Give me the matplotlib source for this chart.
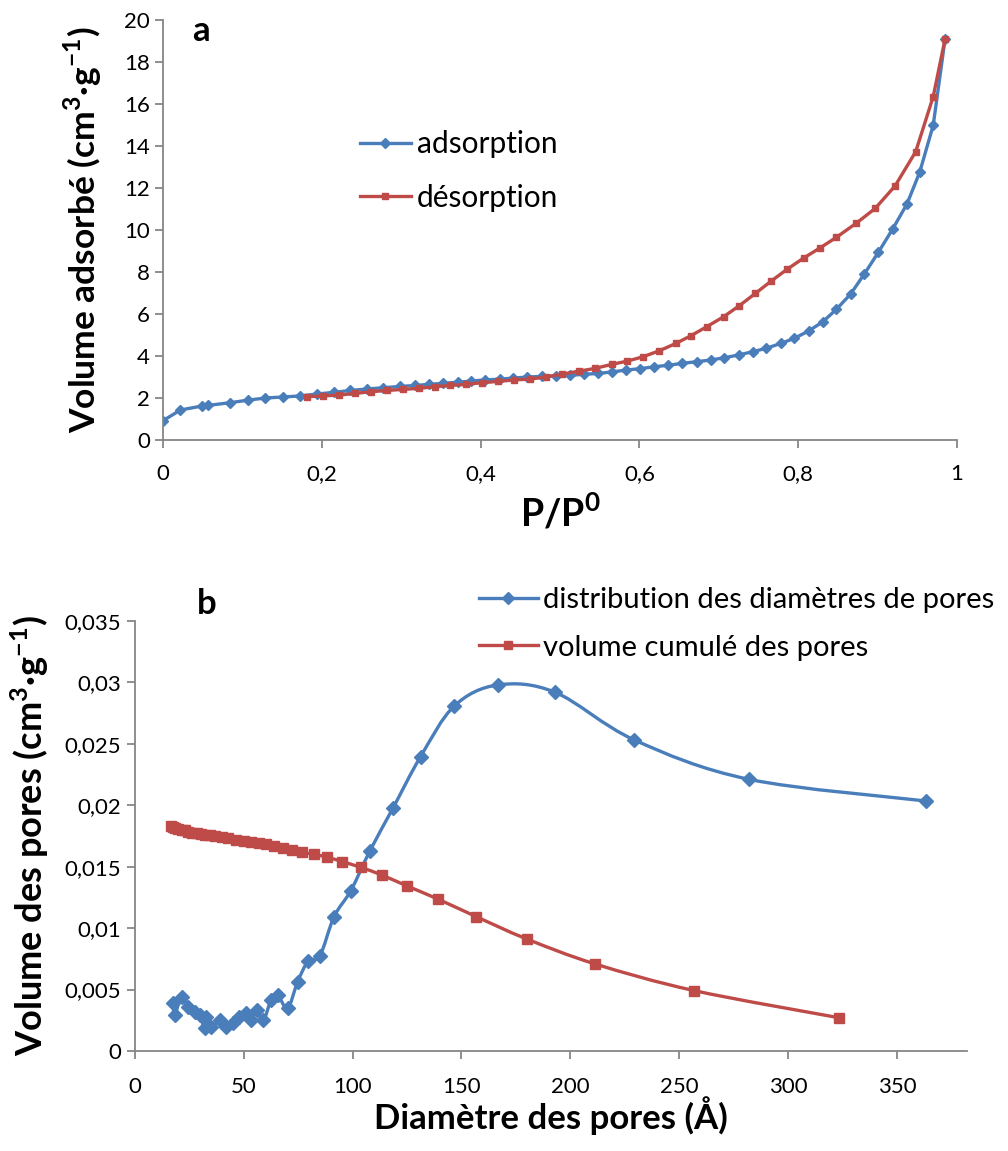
import numpy as np
import matplotlib
matplotlib.use("Agg")
import matplotlib.pyplot as plt
from matplotlib.path import Path
from matplotlib.patches import PathPatch
from matplotlib.ticker import FuncFormatter

plt.rcParams['font.family'] = ['Lato', 'DejaVu Sans']
plt.rcParams['mathtext.fontset'] = 'custom'
plt.rcParams['mathtext.rm'] = 'Lato'
plt.rcParams['mathtext.bf'] = 'Lato:bold'

# --- panel a : isotherm ---
p_ads = [0.0, 0.022, 0.049, 0.057, 0.085, 0.107, 0.129, 0.151, 0.173, 0.194,
         0.215, 0.236, 0.257, 0.277, 0.298, 0.318, 0.335, 0.353, 0.371, 0.388,
         0.406, 0.424, 0.441, 0.459, 0.477, 0.495, 0.512, 0.530, 0.548, 0.565,
         0.583, 0.601, 0.619, 0.636, 0.654, 0.672, 0.690, 0.707, 0.725, 0.743,
         0.760, 0.778, 0.795, 0.813, 0.831, 0.848, 0.866, 0.883, 0.901, 0.919,
         0.937, 0.953, 0.970, 0.985]
v_ads = [0.92, 1.43, 1.62, 1.65, 1.78, 1.90, 2.00, 2.05, 2.10, 2.19,
         2.27, 2.36, 2.43, 2.49, 2.55, 2.60, 2.65, 2.70, 2.75, 2.81,
         2.86, 2.90, 2.95, 3.00, 3.03, 3.05, 3.08, 3.13, 3.17, 3.24,
         3.33, 3.40, 3.49, 3.56, 3.65, 3.73, 3.81, 3.92, 4.05, 4.21,
         4.37, 4.60, 4.84, 5.19, 5.63, 6.22, 6.95, 7.89, 8.94, 10.05,
         11.24, 12.75, 14.98, 19.1]

p_des = [0.181, 0.201, 0.222, 0.242, 0.262, 0.282, 0.302, 0.322, 0.343, 0.362,
         0.382, 0.402, 0.422, 0.442, 0.462, 0.482, 0.503, 0.524, 0.544, 0.565,
         0.585, 0.605, 0.625, 0.646, 0.665, 0.685, 0.706, 0.726, 0.746, 0.766,
         0.786, 0.807, 0.828, 0.848, 0.873, 0.897, 0.922, 0.948, 0.970, 0.985]
v_des = [2.06, 2.10, 2.14, 2.22, 2.30, 2.36, 2.41, 2.46, 2.54, 2.60,
         2.65, 2.73, 2.79, 2.86, 2.90, 3.00, 3.14, 3.28, 3.41, 3.60,
         3.76, 3.97, 4.25, 4.60, 4.97, 5.40, 5.87, 6.40, 6.98, 7.57,
         8.13, 8.67, 9.16, 9.65, 10.32, 11.03, 12.10, 13.73, 16.35, 19.1]

# --- panel b : pore size distribution ---
d_dist = [17.6, 18.4, 21.5, 24.5, 27.6, 29.8, 32.1, 32.9, 35.2, 39.0,
          42.0, 45.1, 48.1, 51.2, 53.5, 56.0, 59.1, 62.6, 65.6, 70.2,
          74.8, 79.7, 85.0, 91.5, 99.2, 108.0, 118.5, 131.2, 146.7, 166.6,
          192.9, 229.4, 282.0, 363.0]
v_dist = [0.00388, 0.00293, 0.00442, 0.00361, 0.0032, 0.00293, 0.00185, 0.00279, 0.00198, 0.00252,
          0.00198, 0.00225, 0.00274, 0.00307, 0.00252, 0.00334, 0.00252, 0.00415, 0.00456, 0.00348,
          0.00564, 0.00733, 0.00773, 0.01093, 0.01305, 0.0163, 0.01975, 0.02395, 0.02808, 0.02979,
          0.0292, 0.02531, 0.02211, 0.02035]

d_cum = [16.5, 17.5, 18.5, 20.0, 21.5, 23.0, 24.5, 26.5, 28.5, 30.5,
         32.5, 34.5, 37.0, 40.0, 43.0, 46.5, 50.0, 53.5, 57.0, 60.5,
         64.0, 68.0, 72.2, 76.8, 82.1, 88.5, 95.3, 103.7, 113.3, 125.0,
         139.1, 156.8, 179.9, 211.4, 256.9, 323.1]
v_cum = [0.0183, 0.0182, 0.01815, 0.0181, 0.018, 0.01795, 0.01785, 0.01778, 0.01772, 0.01765,
         0.0176, 0.01754, 0.01746, 0.01738, 0.0173, 0.0172, 0.01711, 0.01702, 0.01694, 0.01685,
         0.01672, 0.01655, 0.01636, 0.01617, 0.01601, 0.01577, 0.01541, 0.01495, 0.01433, 0.01343,
         0.01237, 0.01093, 0.00912, 0.00708, 0.00491, 0.00271]

BLUE = '#4A7EBB'
RED = '#BE4B48'
AXC = '#868686'


def comma(v, pos):
    return '{:g}'.format(v).replace('.', ',')


def smooth_line(ax, x, y, color, lw):
    # Excel-like smoothed line: cubic bezier through the points
    x = np.asarray(x, float)
    y = np.asarray(y, float)
    verts = [(x[0], y[0])]
    codes = [Path.MOVETO]
    n = len(x)
    for i in range(n - 1):
        i0 = max(i - 1, 0)
        i3 = min(i + 2, n - 1)
        c1 = (x[i] + (x[i + 1] - x[i0]) / 6, y[i] + (y[i + 1] - y[i0]) / 6)
        c2 = (x[i + 1] - (x[i3] - x[i]) / 6, y[i + 1] - (y[i3] - y[i]) / 6)
        verts += [c1, c2, (x[i + 1], y[i + 1])]
        codes += [Path.CURVE4] * 3
    ax.add_patch(PathPatch(Path(verts, codes), fill=False, edgecolor=color,
                           lw=lw, capstyle='round', joinstyle='round'))


def style_axes(ax):
    for s in ['top', 'right']:
        ax.spines[s].set_visible(False)
    for s in ['left', 'bottom']:
        ax.spines[s].set_color(AXC)
        ax.spines[s].set_linewidth(1.3)
    ax.tick_params(direction='out', length=6, width=1.3, color=AXC,
                   labelsize=16, labelcolor='black')


fig = plt.figure(figsize=(10.08, 11.51), dpi=100)

# panel a
ax1 = fig.add_axes([0.1617, 0.6177, 0.7877, 0.3649])
ax1.plot(p_ads, v_ads, '-', color=BLUE, lw=2.4, marker='D', ms=5.5,
         label='adsorption')
ax1.plot(p_des, v_des, '-', color=RED, lw=2.4, marker='s', ms=5,
         label='désorption')
ax1.set_xlim(0, 1)
ax1.set_ylim(0, 20)
ax1.set_xticks(np.arange(0, 1.01, 0.2))
ax1.set_yticks(np.arange(0, 21, 2))
ax1.xaxis.set_major_formatter(FuncFormatter(comma))
style_axes(ax1)
ax1.tick_params(axis='x', pad=11)
ax1.set_xlabel(r'P/P$^{\mathbf{0}}$', fontsize=27, fontweight='bold', labelpad=6)
ax1.set_ylabel(r'Volume adsorbé (cm$^{\mathbf{3}}$·g$^{\mathbf{-1}}$)',
               fontsize=25.5, fontweight='bold', labelpad=14)
ax1.text(0.037, 0.975, 'a', transform=ax1.transAxes, fontsize=25,
         fontweight='bold', va='center')
ax1.legend(loc='upper left', bbox_to_anchor=(0.248, 0.737), frameon=False,
           fontsize=21.5, handlelength=1.7, handletextpad=0.2, labelspacing=0.84,
           borderaxespad=0, borderpad=0)

# panel b
ax2 = fig.add_axes([0.1336, 0.0869, 0.8257, 0.3736])
smooth_line(ax2, d_dist, v_dist, BLUE, 2.4)
smooth_line(ax2, d_cum, v_cum, RED, 2.4)
ax2.plot(d_dist, v_dist, 'D', color=BLUE, ms=7.5, mec=BLUE,
         label='distribution des diamètres de pores')
ax2.plot(d_cum, v_cum, 's', color=RED, ms=7.5, mec=RED,
         label='volume cumulé des pores')
ax2.set_xlim(0, 382)
ax2.set_ylim(0, 0.035)
ax2.set_xticks(np.arange(0, 351, 50))
ax2.set_yticks(np.arange(0, 0.0351, 0.005))
ax2.yaxis.set_major_formatter(FuncFormatter(comma))
style_axes(ax2)
ax2.tick_params(axis='x', pad=13)
ax2.set_xlabel('Diamètre des pores (Å)', fontsize=25, fontweight='bold',
               labelpad=-1)
ax2.set_ylabel(r'Volume des pores (cm$^{\mathbf{3}}$·g$^{\mathbf{-1}}$)',
               fontsize=26, fontweight='bold', labelpad=10)
ax2.text(0.075, 1.04, 'b', transform=ax2.transAxes, fontsize=25,
         fontweight='bold', va='center')
h = [plt.Line2D([], [], color=BLUE, lw=2.4, marker='D', ms=6),
     plt.Line2D([], [], color=RED, lw=2.4, marker='s', ms=6)]
ax2.legend(h, ['distribution des diamètres de pores', 'volume cumulé des pores'],
           loc='upper left', bbox_to_anchor=(0.414, 1.079), frameon=False,
           fontsize=21, handlelength=2.0, handletextpad=0.2, labelspacing=0.74,
           borderaxespad=0, borderpad=0)

fig.savefig('out.png', dpi=100)
